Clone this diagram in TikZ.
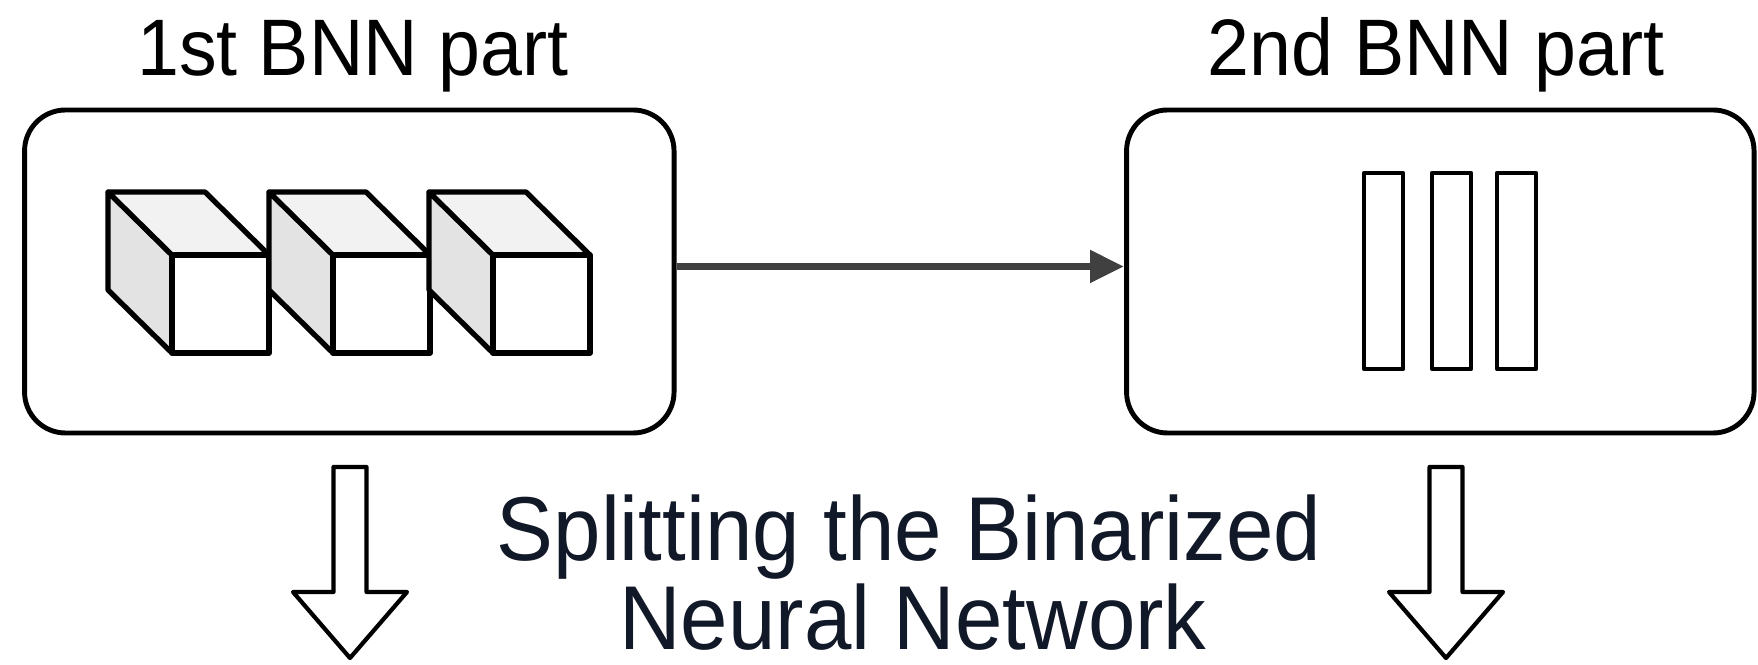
\documentclass[tikz,border=0pt]{standalone}
\usepackage{fontspec}
\setmainfont[FakeStretch=0.94]{Liberation Sans}
\usetikzlibrary{arrows.meta}
\definecolor{navy}{HTML}{111827}
\definecolor{arrowgray}{HTML}{404040}
\definecolor{topgray}{HTML}{F2F2F2}
\definecolor{sidegray}{HTML}{E3E3E3}
\tikzset{
    part/.style={draw,line width=1.4pt,rounded corners=4.1mm,minimum height=3.23cm},
    parttitle/.style={font=\fontsize{22.8}{25}\selectfont,anchor=base,inner sep=0pt},
    splittext/.style={font=\fontsize{25.8}{27}\selectfont,text=navy,anchor=base,inner sep=0pt},
    cubeline/.style={line width=1.5pt}
}
\begin{document}
\begin{tikzpicture}[line join=round]
    \useasboundingbox (0,0) rectangle (17.58,-6.65);
    % BNN parts
    \node[part,minimum width=6.495cm] (part1) at (3.493,-2.715) {};
    \node[part,minimum width=6.275cm] (part2) at (14.403,-2.715) {};
    % Titles
    \node[parttitle] (title1) at (3.53,-0.76) {1st BNN part};
    \node[parttitle] (title2) at (14.36,-0.76) {2nd BNN part};
    % Cubes
    \foreach \x in {1.72,3.33,4.93} {
        \filldraw[cubeline,fill=sidegray] (\x,-3.53) -- (\x,-2.55) -- (\x-.64,-1.92) -- (\x-.64,-2.90) -- cycle;
        \filldraw[cubeline,fill=topgray] (\x,-2.55) -- (\x+.97,-2.55) -- (\x+.33,-1.92) -- (\x-.64,-1.92) -- cycle;
        \filldraw[cubeline,fill=white] (\x,-3.53) rectangle (\x+.97,-2.55);
    }
    % Bars
    \foreach \x in {13.64,14.32,14.97}
        \draw[line width=1.2pt] (\x,-1.73) rectangle (\x+.39,-3.69);
    % Arrow between parts
    \draw[-{Triangle[length=3.4mm,width=3.1mm]},line width=2.2pt,arrowgray]
        ([yshift=.5mm]part1.east) -- ([yshift=.5mm]part2.west);
    % Hollow down arrows
    \foreach \x in {3.50,14.46}
        \draw[line width=1.2pt] (\x-.165,-4.67) -- (\x+.165,-4.67) -- (\x+.165,-5.92) -- (\x+.57,-5.92)
            -- (\x,-6.58) -- (\x-.57,-5.92) -- (\x-.165,-5.92) -- cycle;
    % Caption
    \node[splittext] (split1) at (9.09,-5.61) {Splitting the Binarized};
    \node[splittext] (split2) at (9.13,-6.50) {Neural Network};
\end{tikzpicture}
\end{document}
